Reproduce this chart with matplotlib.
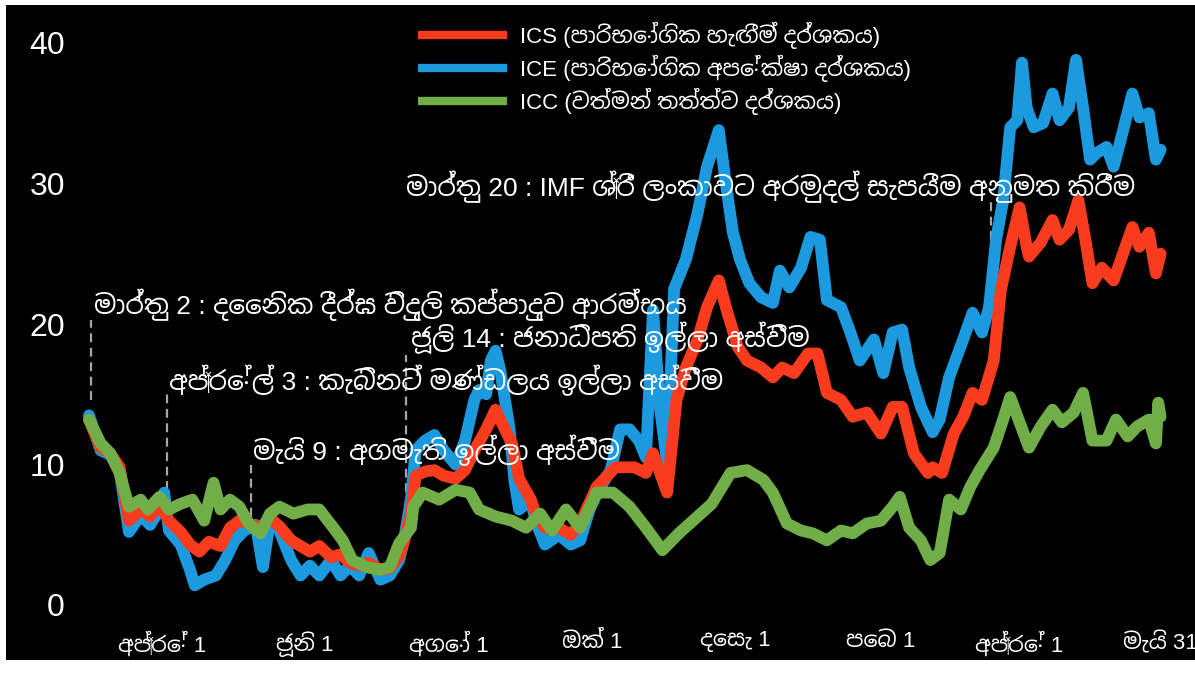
import pandas as pd
import numpy as np
import matplotlib
matplotlib.use("Agg")
import matplotlib.pyplot as plt
from matplotlib.patches import Rectangle

plt.rcParams['font.family'] = ['Liberation Sans', 'Noto Sans Sinhala', 'Noto Sans', 'DejaVu Sans']

# Data: days counted from 1 Mar 2022
START = pd.Timestamp("2022-03-01")

ice_days = [0, 5, 9, 13, 17, 22, 26, 30, 32, 34, 39, 43, 45, 49, 54, 58, 62, 66, 71, 74,
            77, 81, 86, 90, 94, 98, 103, 107, 111, 115, 119, 124, 128, 132, 134, 137, 139,
            143, 147, 151, 156, 160, 164, 166, 169, 171, 173, 175, 177, 179, 181, 183, 188,
            190, 194, 200, 205, 209, 213, 217, 222, 226, 230, 234, 237, 240, 243, 246, 249,
            254, 259, 263, 268, 271, 274, 277, 281, 286, 291, 294, 298, 303, 307, 311, 314,
            320, 324, 328, 334, 338, 342, 346, 349, 354, 359, 362, 366, 372, 376, 380, 383,
            386, 389, 392, 395, 397, 399, 402, 406, 410, 413, 417, 420, 423, 426, 429, 433,
            436, 439, 444, 447, 451, 454, 456]
ice = [13.5, 11.0, 10.7, 9.6, 5.2, 6.4, 5.7, 6.8, 8.0, 5.3, 4.3, 2.5, 1.4, 1.8, 2.1, 3.2,
       4.6, 5.3, 5.7, 2.7, 6.0, 5.3, 3.2, 2.1, 2.8, 2.1, 3.2, 2.1, 2.8, 2.1, 3.7, 1.8, 2.1,
       3.2, 4.6, 7.5, 11.0, 11.7, 12.1, 11.0, 10.0, 11.7, 14.6, 15.3, 15.0, 17.4, 18.1, 16.7,
       14.6, 12.5, 8.9, 6.8, 7.5, 6.0, 4.3, 5.0, 4.3, 4.6, 6.8, 8.2, 9.6, 12.5, 12.5, 11.7,
       10.5, 21.0, 14.0, 10.1, 22.5, 24.6, 27.9, 31.2, 33.8, 30.0, 26.5, 24.6, 22.9, 21.9,
       21.5, 23.8, 22.6, 24.0, 26.2, 26.0, 21.7, 21.2, 19.4, 17.4, 18.9, 16.5, 19.4, 19.6,
       16.9, 14.1, 12.3, 13.2, 16.2, 18.9, 20.8, 19.4, 21.2, 26.0, 28.8, 34.0, 34.5, 38.6,
       35.4, 34.0, 34.3, 36.4, 34.5, 35.4, 38.8, 35.4, 31.7, 32.2, 32.6, 31.2, 33.1, 36.4,
       34.7, 35.0, 31.7, 32.4]

ics_days = [0, 5, 9, 13, 17, 22, 26, 30, 34, 39, 43, 47, 51, 56, 60, 64, 68, 73, 77, 81,
            86, 90, 94, 98, 103, 107, 111, 115, 119, 124, 128, 132, 134, 137, 139, 143, 147,
            151, 156, 160, 164, 169, 173, 177, 180, 183, 188, 190, 194, 200, 205, 209, 216,
            224, 232, 237, 240, 246, 250, 254, 259, 263, 268, 271, 276, 280, 286, 291, 295,
            300, 306, 310, 314, 320, 325, 331, 337, 342, 346, 351, 357, 359, 363, 368, 372,
            376, 380, 385, 388, 392, 396, 399, 400, 405, 410, 413, 417, 421, 424, 427, 431,
            436, 440, 444, 447, 451, 454, 456]
ics = [13.2, 11.2, 10.8, 9.8, 6.0, 6.8, 6.3, 7.2, 6.0, 5.2, 4.3, 3.8, 4.5, 4.2, 5.5, 6.0,
       5.8, 5.5, 6.2, 5.6, 4.6, 4.2, 3.8, 4.2, 3.4, 3.6, 3.0, 2.8, 3.0, 2.5, 2.6, 3.5, 4.5,
       6.5, 9.2, 9.5, 9.6, 9.2, 9.0, 9.6, 11.0, 12.5, 13.9, 12.5, 11.5, 9.0, 7.5, 6.5, 5.5,
       5.5, 5.0, 5.8, 8.4, 9.8, 9.8, 9.4, 10.8, 8.0, 14.6, 16.9, 18.9, 21.2, 23.1, 21.2,
       18.4, 17.4, 16.9, 16.2, 16.9, 16.5, 17.9, 17.9, 15.1, 14.6, 13.4, 13.7, 12.2, 14.1,
       14.1, 10.8, 9.4, 9.8, 9.4, 12.2, 13.4, 15.1, 14.6, 17.4, 22.4, 25.5, 28.3, 25.5,
       24.8, 25.8, 27.4, 26.0, 26.7, 28.8, 26.0, 22.9, 24.0, 23.1, 25.0, 26.9, 25.5, 26.5,
       23.6, 25.0]

icc_days = [0, 5, 9, 13, 17, 22, 25, 30, 34, 39, 44, 49, 53, 56, 60, 64, 68, 73, 77, 81,
            87, 93, 98, 104, 108, 112, 118, 124, 128, 132, 137, 138, 142, 149, 156, 162, 166,
            173, 180, 186, 192, 197, 203, 209, 216, 223, 230, 237, 244, 251, 259, 265, 273,
            280, 287, 291, 297, 303, 308, 314, 320, 325, 331, 337, 342, 345, 349, 354, 358,
            362, 366, 371, 375, 379, 385, 389, 392, 396, 400, 405, 410, 414, 419, 423, 427,
            433, 437, 442, 446, 451, 454, 455, 456]
icc = [13.2, 11.5, 10.8, 9.4, 7.0, 7.5, 6.8, 7.7, 6.8, 7.2, 7.5, 6.0, 8.7, 6.8, 7.5, 7.0,
       5.8, 5.1, 6.5, 7.0, 6.5, 6.8, 6.8, 5.5, 4.6, 3.2, 2.7, 2.5, 2.7, 4.4, 5.5, 7.0, 8.0,
       7.5, 8.2, 8.0, 6.8, 6.3, 6.0, 5.5, 6.5, 5.3, 6.8, 5.5, 8.0, 8.0, 7.0, 5.5, 3.9, 5.1,
       6.3, 7.2, 9.4, 9.6, 8.9, 8.0, 5.8, 5.3, 5.1, 4.6, 5.3, 5.1, 5.8, 6.0, 7.0, 7.7, 5.5,
       4.6, 3.2, 3.7, 7.5, 6.8, 8.4, 9.6, 11.2, 13.2, 14.8, 13.0, 11.2, 12.7, 13.9, 13.0,
       13.7, 15.1, 11.7, 11.7, 13.2, 12.0, 12.7, 13.2, 11.5, 14.4, 13.4]

series_labels = ["ICS (පාරිභෝගික හැඟීම් දර්ශකය)",
                 "ICE (පාරිභෝගික අපේක්ෂා දර්ශකය)",
                 "ICC (වත්මන් තත්ත්ව දර්ශකය)"]

tick_dates = ["2022-04-01", "2022-06-01", "2022-08-01", "2022-10-01", "2022-12-01",
              "2023-02-01", "2023-04-01", "2023-05-31"]
tick_labels = ["අප්‍රේ 1", "ජූනි 1", "අගෝ 1", "ඔක් 1", "දෙසැ 1", "පෙබ 1", "අප්‍රේ 1", "මැයි 31"]

# events: date, label text, dashed line span, label position
event_dates = ["2022-03-02", "2022-04-03", "2022-05-09", "2022-07-14", "2023-03-20"]
event_texts = ["මාර්තු 2 : දෛනික දීර්ඝ විදුලි කප්පාදුව ආරම්භය",
               "අප්‍රේල් 3 : කැබිනට් මණ්ඩලය ඉල්ලා අස්වීම",
               "මැයි 9 : අගමැති ඉල්ලා අස්වීම",
               "ජූලි 14 : ජනාධිපති ඉල්ලා අස්වීම",
               "මාර්තු 20 : IMF ශ්‍රී ලංකාවට අරමුදල් සැපයීම අනුමත කිරීම"]
event_line_lo = [14.6, 8.2, 5.3, 6.0, 26.0]
event_line_hi = [20.3, 15.2, 10.0, 17.8, 28.8]
event_text_y = [21.4, 16.0, 11.0, 19.0, 29.8]
event_text_x = ["2022-03-03", "2022-04-04", "2022-05-10", "2022-07-16", "2022-07-14"]

RED = "#FA3C1E"
BLUE = "#1B9AE0"
GREEN = "#72AE48"


def to_dates(days):
    return START + pd.to_timedelta(days, unit="D")


fig = plt.figure(figsize=(11.95, 6.76), dpi=100, facecolor="white")
# black panel with the thin white frame of the original
fig.patches.append(Rectangle((6 / 1195, 16 / 676), 1 - 6 / 1195, (676 - 5 - 16) / 676,
                             transform=fig.transFigure, facecolor="black", zorder=-5))
ax = fig.add_axes([84.3 / 1195, 71 / 676, 1076.3 / 1195, 562 / 676])
ax.set_facecolor("none")

lw = 8.5
l_ice, = ax.plot(to_dates(ice_days), ice, color=BLUE, lw=lw, solid_joinstyle="round",
                 solid_capstyle="round", zorder=2, clip_on=False)
l_ics, = ax.plot(to_dates(ics_days), ics, color=RED, lw=lw, solid_joinstyle="round",
                 solid_capstyle="round", zorder=3, clip_on=False)
l_icc, = ax.plot(to_dates(icc_days), icc, color=GREEN, lw=lw, solid_joinstyle="round",
                 solid_capstyle="round", zorder=4, clip_on=False)

for d, txt, lo, hi, ty, tx in zip(event_dates, event_texts, event_line_lo, event_line_hi,
                                  event_text_y, event_text_x):
    ax.plot([pd.Timestamp(d)] * 2, [lo, hi], color="#A6A6A6", lw=1.6,
            linestyle=(0, (4, 2.5)), zorder=1)
    ax.text(pd.Timestamp(tx), ty, txt, color="white", fontsize=19, ha="left",
            va="center", zorder=5)

ax.set_xlim(pd.Timestamp("2022-02-27"), pd.Timestamp("2023-05-31"))
ax.set_ylim(0, 40)
ax.set_yticks([0, 10, 20, 30, 40])
ax.set_xticks(pd.to_datetime(tick_dates))
ax.set_xticklabels(tick_labels)
ax.tick_params(axis="y", colors="white", labelsize=23, length=0, pad=14)
ax.tick_params(axis="x", colors="white", labelsize=16, length=0, pad=19)
for s in ax.spines.values():
    s.set_visible(False)

leg = fig.legend([l_ics, l_ice, l_icc], series_labels, loc="upper left",
                 bbox_to_anchor=(418 / 1195, 1 - 22 / 676), frameon=False,
                 fontsize=16, handlelength=4.0, handletextpad=0.6, labelspacing=0.25,
                 borderpad=0, borderaxespad=0)
for h in leg.get_lines():
    h.set_linewidth(6)
    h.set_solid_capstyle("butt")
for t in leg.get_texts():
    t.set_color("white")

fig.savefig("out.png", dpi=100, facecolor=fig.get_facecolor())
